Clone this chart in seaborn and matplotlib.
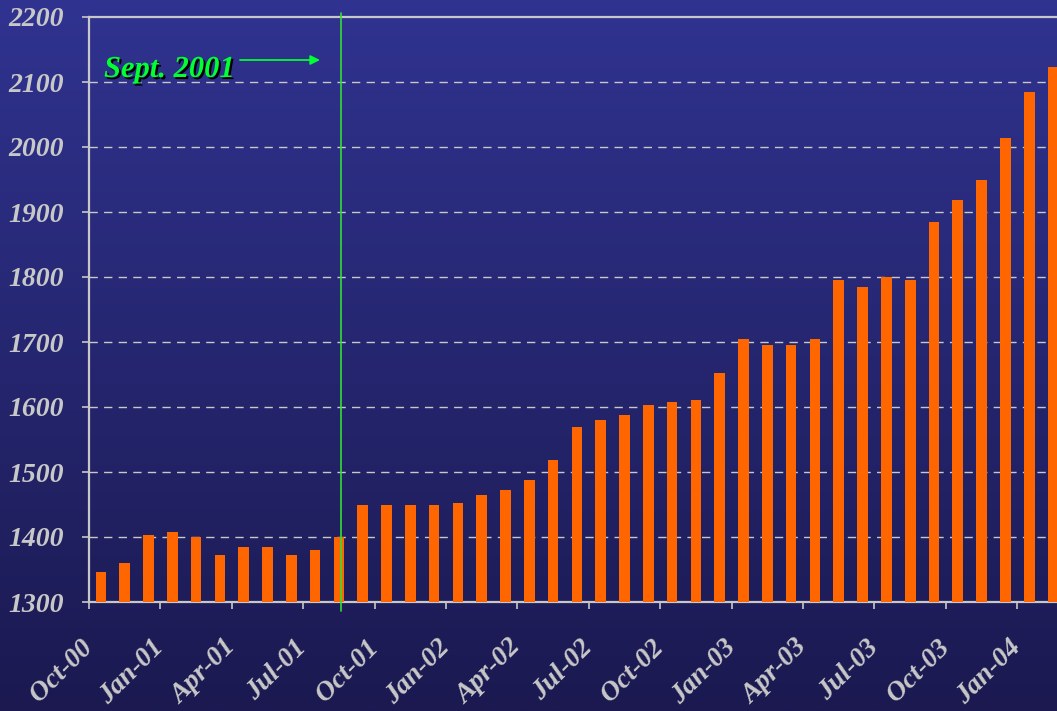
import matplotlib
matplotlib.use("Agg")
import matplotlib.pyplot as plt
import matplotlib.patheffects as pe
import matplotlib.transforms as mtrans
import seaborn as sns
import pandas as pd
import numpy as np

sns.set_style("white")
plt.rcParams['font.family'] = ['Liberation Serif', 'DejaVu Serif']

# Monthly values, Oct 2000 - Feb 2004
months = pd.date_range('2000-10-01', periods=41, freq='MS').strftime('%b-%y').tolist()
values = [1346, 1360, 1403, 1408, 1400, 1372, 1385, 1385, 1372, 1380,
          1400, 1449, 1449, 1449, 1449, 1452, 1465, 1473, 1488, 1519,
          1570, 1580, 1588, 1603, 1608, 1611, 1653, 1704, 1696, 1696,
          1704, 1796, 1784, 1800, 1796, 1884, 1919, 1950, 2014, 2085,
          2123]
tick_labels = ['Oct-00', 'Jan-01', 'Apr-01', 'Jul-01', 'Oct-01', 'Jan-02', 'Apr-02',
               'Jul-02', 'Oct-02', 'Jan-03', 'Apr-03', 'Jul-03', 'Oct-03', 'Jan-04']
y_ticks = list(range(1300, 2201, 100))
event_pos = 10.1  # Sept. 2001 marker, in bar positions

df = pd.DataFrame({'month': months, 'value': values})

bar_color = '#ff6600'
label_color = '#c8c8c8'
green = '#00ff33'

W, H = 1057, 711
fig = plt.figure(figsize=(W / 100, H / 100), dpi=100)

# gradient background
bg = fig.add_axes([0, 0, 1, 1], zorder=-10)
top = np.array([48, 51, 144]) / 255
bot = np.array([27, 25, 80]) / 255
t = np.linspace(0, 1, 300)[:, None]
grad = (top * (1 - t) + bot * t)[:, None, :]
bg.imshow(grad, aspect='auto', extent=[0, 1, 0, 1])
bg.axis('off')

ax = fig.add_axes([89 / W, (H - 602) / H, 1 - 89 / W, (602 - 17) / H])
ax.set_facecolor('none')

sns.barplot(data=df, x='month', y='value', color=bar_color, saturation=1,
            width=0.45, linewidth=0, edgecolor='none', ax=ax, zorder=3)

ax.set_ylim(1300, 2200)
ax.set_xlim(-0.5, 40.17)
ax.set_yticks(y_ticks)
ax.set_xticks(np.arange(len(tick_labels)) * 3 - 0.5)
ax.set_xticklabels(tick_labels, rotation=45, ha='right', va='center',
                   rotation_mode='anchor')
ax.set_xlabel('')
ax.set_ylabel('')

shift = mtrans.ScaledTranslation(-5 / 100, 0, fig.dpi_scale_trans)
for lab in ax.get_xticklabels():
    lab.set_transform(lab.get_transform() + shift)

for lab in ax.get_xticklabels() + ax.get_yticklabels():
    lab.set_fontweight('bold')
    lab.set_fontstyle('italic')
    lab.set_color(label_color)
    lab.set_fontsize(20)

ax.tick_params(axis='x', direction='out', length=5, width=1.2, color=label_color, pad=25)
ax.tick_params(axis='y', direction='out', length=5, width=1.2, color=label_color, pad=13)
ax.tick_params(bottom=True, left=True)

for side in ['left', 'top', 'bottom']:
    ax.spines[side].set_visible(True)
    ax.spines[side].set_color(label_color)
    ax.spines[side].set_linewidth(1.6)
ax.spines['right'].set_visible(False)

# dashed gridlines
for y in y_ticks[1:-1]:
    ax.axhline(y, color=label_color, lw=1.0, linestyle=(0, (6, 4.5)), zorder=1)

# Sept. 2001 marker
ax.plot([event_pos, event_pos], [1286, 2206], color='#33dd33', lw=1.2,
        clip_on=False, zorder=4)
fig.text(104 / W, 1 - 77 / H, 'Sept. 2001', color=green, fontsize=22,
         fontweight='bold', fontstyle='italic', va='baseline', ha='left',
         path_effects=[pe.withSimplePatchShadow(offset=(1.5, -1.5),
                                                shadow_rgbFace='black', alpha=1.0)])
ax.annotate('', xy=(320 / W, 1 - 60 / H), xytext=(240 / W, 1 - 60 / H),
            xycoords='figure fraction', textcoords='figure fraction',
            arrowprops=dict(arrowstyle='-|>', color=green, lw=1.3,
                            mutation_scale=14, shrinkA=0, shrinkB=0))

fig.savefig('out.png', dpi=100)
